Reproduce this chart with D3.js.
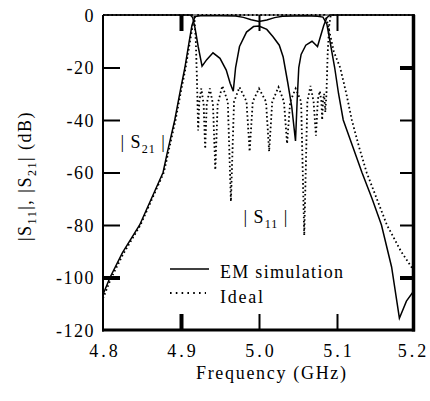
<!DOCTYPE html>
<html><head><meta charset="utf-8">
<script src="https://cdn.jsdelivr.net/npm/d3@7"></script>
<style>
body{margin:0;background:#fff}
</style>
</head><body>
<svg id="c" width="430" height="401"></svg>
<script>
// ---- data ----
const freqTicks = [4.8, 4.9, 5.0, 5.1, 5.2];
const freqLabels = ["4.8", "4.9", "5.0", "5.1", "5.2"];
const dbTicks = [0, -20, -40, -60, -80, -100, -120];
const dbLabels = ["0", "-20", "-40", "-60", "-80", "-100", "-120"];

// EM simulation |S21| : [GHz, dB]
const emS21 = [[4.800,-106.5],[4.809,-100],[4.825,-90.5],[4.847,-80],[4.865,-68],[4.877,-60],[4.882,-53],
  [4.892,-40],[4.899,-29],[4.905,-20],[4.910,-11],[4.914,-4],[4.918,-0.6],[4.925,-0.3],[4.950,-0.3],
  [4.970,-0.4],[4.980,-0.9],[4.990,-1.8],[5.000,-2.5],[5.010,-1.9],[5.020,-1.0],[5.030,-0.5],[5.060,-0.3],
  [5.075,-0.5],[5.082,-0.8],[5.087,-3.5],[5.091,-10],[5.097,-20],[5.102,-30],[5.108,-40],[5.120,-50],
  [5.132,-60],[5.145,-70],[5.157,-80],[5.170,-96],[5.180,-115.5],[5.189,-109],[5.200,-104.5]];

// Ideal |S21|
const idealS21 = [[4.800,-108],[4.810,-100.5],[4.826,-91],[4.848,-80],[4.866,-68],[4.878,-60],[4.884,-52],
  [4.893,-40],[4.900,-29],[4.906,-20],[4.911,-11],[4.915,-4],[4.919,0],[5.084,0],[5.087,-2],[5.090,-6],
  [5.096,-14],[5.104,-20],[5.112,-30],[5.119,-40],[5.128,-50],[5.138,-60],[5.151,-70],[5.164,-80],
  [5.182,-90],[5.200,-98]];

// EM simulation |S11|
const emS11 = [[4.800,0],[4.912,0],[4.915,-1],[4.918,-5],[4.922,-12],[4.927,-19.5],[4.933,-17],[4.941,-14.4],
  [4.950,-16.5],[4.958,-21],[4.963,-26],[4.967,-29],[4.970,-20],[4.975,-12],[4.984,-6.5],[4.993,-4.4],
  [5.000,-4.2],[5.010,-5.5],[5.018,-8.3],[5.026,-11.5],[5.031,-16],[5.037,-26],[5.042,-35],[5.0468,-48],
  [5.049,-32],[5.051,-20],[5.054,-15],[5.060,-11.5],[5.068,-10],[5.075,-12],[5.079,-8],[5.083,-4],
  [5.087,-1],[5.091,0],[5.200,0]];

// Ideal |S11|
const idealS11 = [[4.800,0],[4.917,0],[4.919,-10],[4.9205,-25],[4.922,-44],[4.9235,-33],[4.926,-28],
  [4.929,-34],[4.931,-51],[4.933,-34],[4.937,-28],[4.941,-34],[4.944,-59],[4.947,-34],[4.953,-27],
  [4.960,-33],[4.964,-71],[4.968,-33],[4.975,-27.5],[4.984,-33],[4.988,-52],[4.992,-33],[5.000,-28],
  [5.009,-33],[5.013,-52],[5.017,-33],[5.025,-27.5],[5.032,-33],[5.036,-49],[5.040,-33],[5.047,-28],
  [5.054,-33],[5.058,-84],[5.062,-33],[5.066,-27],[5.070,-33],[5.073,-46],[5.0755,-32],[5.078,-29],
  [5.080,-33],[5.081,-40],[5.082,-33],[5.0835,-30],[5.085,-37],[5.0865,-30],[5.088,-15],[5.090,-4],
  [5.092,0],[5.200,0]];

// ---- chart ----
const FONT = "'Liberation Serif', 'Times New Roman', serif";
const svg = d3.select("#c");
const x = d3.scaleLinear().domain([4.8, 5.2]).range([103, 415]);
const y = d3.scaleLinear().domain([0, -120]).range([15, 330]);

svg.append("clipPath").attr("id","clip").append("rect")
  .attr("x", x(4.8)).attr("y", y(0)-2).attr("width", x(5.2)-x(4.8)).attr("height", y(-120)-y(0)+2);

const line = d3.line().x(d => x(d[0])).y(d => y(d[1]));
const plot = svg.append("g").attr("clip-path","url(#clip)");

// frame
svg.append("line").attr("x1",x(4.8)).attr("x2",x(5.2)).attr("y1",y(0)).attr("y2",y(0)).attr("stroke","#000").attr("stroke-width",1);
svg.append("line").attr("x1",x(4.8)).attr("x2",x(4.8)).attr("y1",y(0)).attr("y2",y(-120)+1.5).attr("stroke","#000").attr("stroke-width",2);
svg.append("line").attr("x1",x(4.8)-1).attr("x2",x(5.2)).attr("y1",y(-120)).attr("y2",y(-120)).attr("stroke","#000").attr("stroke-width",3);
svg.append("line").attr("x1",x(5.2)-1.5).attr("x2",x(5.2)-1.5).attr("y1",y(0)).attr("y2",y(-120)+1.5).attr("stroke","#000").attr("stroke-width",3.5);

// ticks
const inner = [4.9, 5.0, 5.1];
const yin = [-20, -40, -60, -80, -100];
function styleTicks(g, thick) {
  g.select(".domain").remove();
  g.selectAll(".tick line").attr("stroke","#000").attr("stroke-width", d => thick.includes(d) ? 4 : 2);
}
svg.append("g").attr("transform",`translate(0,${y(-120)})`)
  .call(d3.axisTop(x).tickValues(inner).tickSize(16).tickFormat(""))
  .call(g => styleTicks(g,[4.9]));
svg.append("g").attr("transform",`translate(0,${y(0)})`)
  .call(d3.axisBottom(x).tickValues(inner).tickSize(16).tickFormat(""))
  .call(g => styleTicks(g,[4.9]));
svg.append("g").attr("transform",`translate(${x(4.8)},0)`)
  .call(d3.axisRight(y).tickValues(yin).tickSize(17).tickFormat(""))
  .call(g => styleTicks(g,[-100]));
svg.append("g").attr("transform",`translate(${x(5.2)},0)`)
  .call(d3.axisLeft(y).tickValues(yin).tickSize(15).tickFormat(""))
  .call(g => styleTicks(g,[-20,-100]));

// tick labels
svg.append("g").attr("transform",`translate(95,0)`)
  .call(d3.axisLeft(y).tickValues(dbTicks).tickSize(0).tickPadding(0).tickFormat((d,i) => dbLabels[i]))
  .call(g => { g.select(".domain").remove();
    g.selectAll("text").attr("font-size",18).style("letter-spacing","1.5px").attr("dy","0.36em"); });
svg.append("g").attr("transform",`translate(0,${y(-120)})`)
  .call(d3.axisBottom(x).tickValues(freqTicks).tickSize(0).tickPadding(14).tickFormat((d,i) => freqLabels[i]))
  .call(g => { g.select(".domain").remove();
    g.selectAll("text").attr("font-size",18).style("letter-spacing","3px")
      .attr("dx", d => d === 5.2 ? "-2" : "1.5"); });

// curves
plot.append("path").datum(idealS21).attr("d",line).attr("fill","none").attr("stroke","#000")
  .attr("stroke-width",1.8).attr("stroke-dasharray","1.6,2.6");
plot.append("path").datum(idealS11).attr("d",line).attr("fill","none").attr("stroke","#000")
  .attr("stroke-width",1.8).attr("stroke-dasharray","1.6,2.6");
plot.append("path").datum(emS21).attr("d",line).attr("fill","none").attr("stroke","#000").attr("stroke-width",1.5);
plot.append("path").datum(emS11).attr("d",line).attr("fill","none").attr("stroke","#000").attr("stroke-width",1.5);

// axis titles
svg.append("text").attr("x",196).attr("y",378.5).attr("font-size",18)
  .attr("textLength",150).attr("lengthAdjust","spacing").text("Frequency (GHz)");

const yt = svg.append("text").attr("transform","translate(31,176) rotate(-90)")
  .attr("text-anchor","middle").attr("font-size",18).style("letter-spacing","1.5px");
yt.append("tspan").text("|S");
yt.append("tspan").attr("font-size",12).attr("dy",5).text("11");
yt.append("tspan").attr("dy",-5).text("|, |S");
yt.append("tspan").attr("font-size",12).attr("dy",5).text("21");
yt.append("tspan").attr("dy",-5).text("| (dB)");

// annotations
function sLabel(x0, base, sub) {
  const t = svg.append("text").attr("x",x0).attr("y",base).attr("font-size",18).style("letter-spacing","1px");
  t.append("tspan").text("| S");
  t.append("tspan").attr("font-size",12).attr("dy",5).text(sub);
  t.append("tspan").attr("dy",-5).text(" |");
}
sLabel(120.5, 148, "21");
sLabel(243.5, 223, "11");

// legend
svg.append("line").attr("x1",170).attr("x2",209).attr("y1",269).attr("y2",269).attr("stroke","#000").attr("stroke-width",1.5);
svg.append("line").attr("x1",170).attr("x2",206).attr("y1",293).attr("y2",293).attr("stroke","#000")
  .attr("stroke-width",1.8).attr("stroke-dasharray","1.6,4.2");
svg.append("text").attr("x",220).attr("y",278).attr("font-size",18)
  .attr("textLength",123).attr("lengthAdjust","spacing").text("EM simulation");
svg.append("text").attr("x",220).attr("y",303).attr("font-size",18)
  .attr("textLength",43).attr("lengthAdjust","spacing").text("Ideal");

// fonts & colours on every text
svg.selectAll("text").style("font-family", FONT).style("fill", "#000");
</script>
</body></html>
